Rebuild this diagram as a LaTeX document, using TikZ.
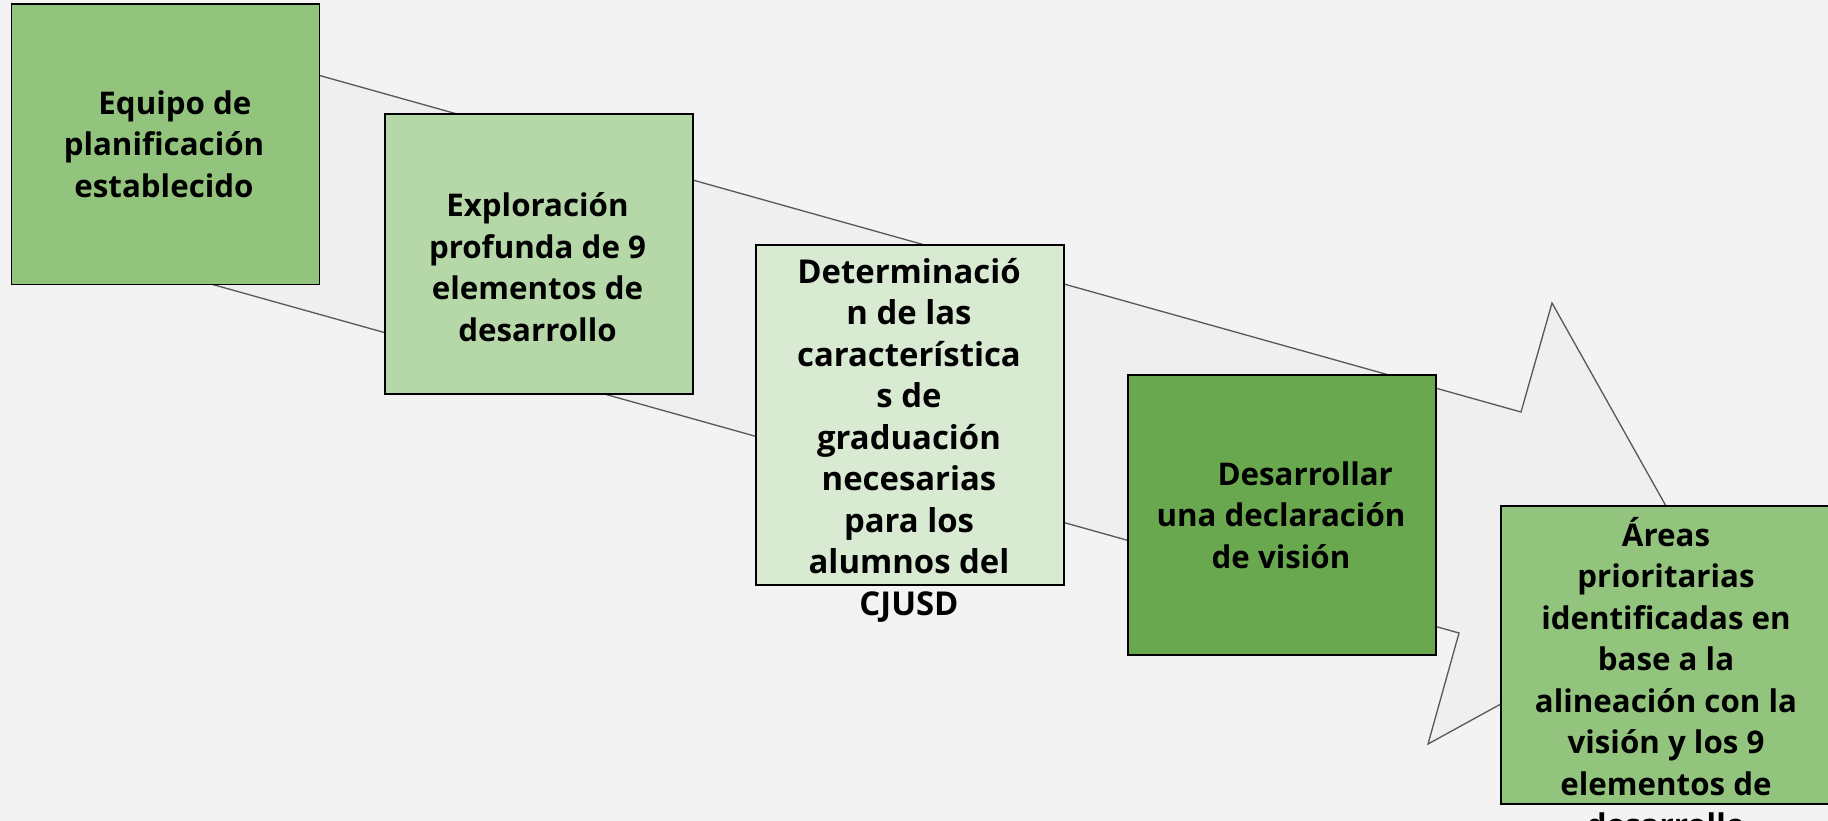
\documentclass[tikz,border=0pt]{standalone}
\usepackage{fontspec}
\setmainfont{Open Sans}
\usepackage{tikz}
\usetikzlibrary{shapes,arrows}

\definecolor{fondo}{HTML}{F3F3F3}
\definecolor{flecha}{HTML}{EFEFEF}
\definecolor{borde}{HTML}{595959}
\definecolor{verdeMedio}{HTML}{93C47D}
\definecolor{verdeClaro}{HTML}{B6D7A8}
\definecolor{verdePalido}{HTML}{D9EAD3}
\definecolor{verdeOscuro}{HTML}{6AA84F}

\newlength\px
\setlength\px{0.02cm}

\tikzset{
  paso/.style={draw=black, line width=1pt, anchor=north west, inner sep=0pt,
    minimum width=308\px, minimum height=280\px},
  texto/.style={align=center, inner sep=0pt,
    font=\bfseries\fontsize{17.8}{23.6}\selectfont},
  textogrande/.style={texto, font=\bfseries\fontsize{18.7}{23.6}\selectfont}
}

\begin{document}
\begin{tikzpicture}[x=0.02cm, y=-0.02cm]

\useasboundingbox (0,0) rectangle (1828,821);
\fill [color=fondo] (0,0) rectangle (1828,821);

% flecha de fondo
\filldraw[fill=flecha, draw=borde, line width=0.75pt]
(100,14) -- (1521,412) -- (1552,303) -- (1712,588) -- (1428,744) -- (1459,633) -- (100,253) -- cycle;


\node (equipo) [paso, fill=verdeMedio] at (10.5,3.5) {};
\node (equipotxt) [texto] at (164,144) {\hspace*{0.7em}Equipo de\\planificación\\establecido};

\node (explora) [paso, fill=verdeClaro] at (384,113) {};
\node (exploratxt) [texto] at (537.5,267) {Exploración\\profunda de 9\\elementos de\\desarrollo};

\node (determina) [paso, fill=verdePalido, minimum height=340\px] at (755,244) {};
\node (determinatxt) [textogrande] at (909,440) {Determinació\\n de las\\característica\\s de\\graduación\\necesarias\\para los\\alumnos del\\CJUSD};

\node (vision) [paso, fill=verdeOscuro] at (1127,374) {};
\node (visiontxt) [texto] at (1281,515) {\hspace*{1.55em}Desarrollar\\una declaración\\de visión};

\node (areas) [paso, fill=verdeMedio, minimum width=334\px, minimum height=298\px] at (1500,505) {};
\node (areastxt) [texto] at (1666,677) {Áreas\\prioritarias\\identificadas en\\base a la\\alineación con la\\visión y los 9\\elementos de\\desarrollo};

\end{tikzpicture}
\end{document}
